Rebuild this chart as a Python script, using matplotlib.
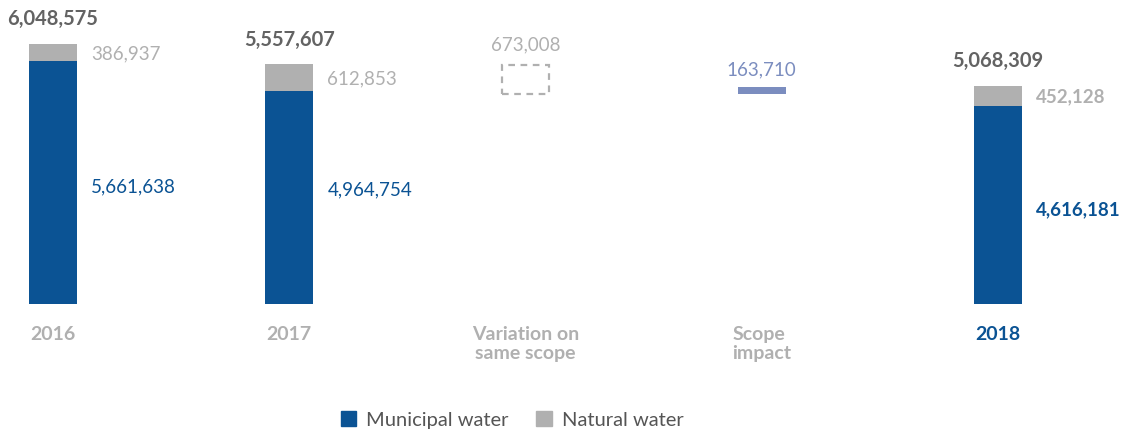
import matplotlib.pyplot as plt
from matplotlib.patches import Rectangle, Patch

# Dados (m3)
years = ["2016", "2017", "2018"]
municipal = [5661638, 4964754, 4616181]
natural = [386937, 612853, 452128]
totals = [6048575, 5557607, 5068309]
variation = -673008
scope_impact = 163710
categories = ["2016", "2017", "Variation on\nsame scope", "Scope\nimpact", "2018"]

blue = "#0b5394"
grey = "#b0b0b0"
lav = "#7b8dbf"
dark = "#636363"

plt.rcParams["font.family"] = ["Lato", "DejaVu Sans"]

fig = plt.figure(figsize=(11.27, 4.30), dpi=100)
ax = fig.add_axes([0, 126 / 430, 1, 300 / 430])
ax.set_xlim(-53 / 236.25, (1127 - 53) / 236.25)
ax.set_ylim(0, 300 / 42.99 * 1e6)
ax.axis("off")

w = 0.203
xs = [0, 1, 4]
m_shift = [-0.11e6, 0.17e6, -0.12e6]  # ajuste vertical dos rotulos azuis

# barras empilhadas
for x, m, n, t, dy in zip(xs, municipal, natural, totals, m_shift):
    bold = "bold" if x == 4 else "normal"
    ax.bar(x, m, width=w, color=blue)
    ax.bar(x, n, bottom=m, width=w, color=grey)
    ax.text(x, t + 5.9e5, f"{t:,}", ha="center", va="center",
            fontsize=14.5, fontweight="bold", color=dark)
    ax.text(x + w / 2 + 0.06, m + n / 2 - 0.03e6, f"{n:,}", ha="left",
            va="center", fontsize=13.5, color=grey, fontweight=bold)
    ax.text(x + w / 2 + 0.06, m / 2 + dy, f"{m:,}", ha="left", va="center",
            fontsize=13.5, color=blue, fontweight=bold)

# variacao no mesmo perimetro (caixa tracejada)
v_top = totals[1]
v_bot = totals[1] + variation
ax.add_patch(Rectangle((2 - w / 2, v_bot), w, v_top - v_bot, fill=False,
                       edgecolor=grey, linewidth=1.6, linestyle=(0, (3, 2.5))))
ax.text(2, v_top + 4.6e5, f"{-variation:,}", ha="center", va="center",
        fontsize=13.5, color=grey)

# impacto do perimetro
ax.bar(3, scope_impact, bottom=v_bot, width=w, color=lav)
ax.text(3, v_bot + scope_impact + 4.0e5, f"{scope_impact:,}", ha="center",
        va="center", fontsize=13.5, color=lav)

# rotulos das categorias
for i, c in enumerate(categories):
    col = blue if c == "2018" else grey
    ax.text(i, -5.2e5, c, ha="center", va="top", fontsize=14,
            fontweight="bold", color=col, linespacing=1.15,
            multialignment="left" if i == 3 else "center", clip_on=False)

handles = [Patch(color=blue), Patch(color=grey)]
fig.legend(handles, ["Municipal water", "Natural water"], loc="center",
           bbox_to_anchor=(512 / 1127, 1 - 420 / 430), ncol=2, frameon=False,
           fontsize=14.5, handlelength=0.75, handleheight=0.75,
           handletextpad=0.5, columnspacing=1.4, labelcolor="#555555")

fig.savefig("out.png", dpi=100)
